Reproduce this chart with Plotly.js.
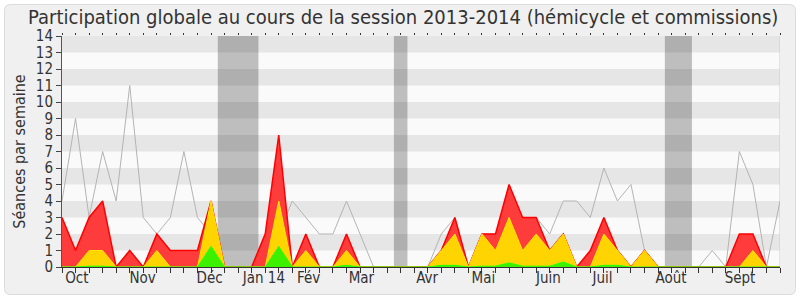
<!DOCTYPE html>
<html><head><meta charset="utf-8">
<script src="https://cdn.plot.ly/plotly-3.0.1.min.js"></script>
<style>body{margin:0;background:#fff}#chart{width:800px;height:300px}</style>
</head><body><div id="chart"></div>
<script>
// Semaines de la session (index de semaine)
const weeks = [0,1,2,3,4,5,6,7,8,9,10,11,12,13,14,15,16,17,18,19,20,21,22,23,24,25,26,
  27,28,29,30,31,32,33,34,35,36,37,38,39,40,41,42,43,44,45,46,47,48,49,50,51,52,53];
// Présences (rouge)
const presences = [3,1,3,4,0,1,0,2,1,1,1,4,0,0,0,2,8,0,2,0,0,2,0,0,0,0,0,
  0,1,3,0,2,2,5,3,3,1,2,0,1,3,1,0,1,0,0,0,0,0,0,2,2,0,0];
// Participations (jaune)
const participations = [0,0,1,1,0,0,0,1,0,0,0,4,0,0,0,0,4,0,1,0,0,1,0,0,0,0,0,
  0,1,2,0,2,1,3,1,2,1,2,0,0,2,1,0,1,0,0,0,0,0,0,0,1,0,0];
// Questions (vert)
const questions = [0,0,0.05,0.05,0,0,0,0,0,0,0,1.25,0,0,0,0,1.25,0,0,0,0,0.1,0,0,0,0,0,
  0,0.1,0.1,0,0.05,0.05,0.25,0.05,0.05,0.05,0.3,0,0,0.1,0.1,0,0,0,0,0,0,0,0,0,0,0,0];
// Médiane des députés (gris)
const mediane = [4,9,3,7,4,11,3,2,3,7,3,2,0,0,0,2,2,4,3,2,2,4,2,0,0,0,0,
  0,2,3,0,2,2,3,3,3,2,4,4,3,6,4,5,1,0,0,0,0,1,0,7,5,0,4];
// Vacances parlementaires (semaines)
const vacancesDebut = [12, 25, 45];
const vacancesFin = [14, 25, 46];
// Mois
const moisLabels = ['Oct','Nov','Déc','Jan 14','Fév','Mar','Avr','Mai','Juin','Juil','Août','Sept'];
const moisPos = [1.1, 5.95, 10.9, 14.9, 18.2, 22.1, 26.95, 31.1, 35.9, 39.9, 44.95, 50.05];
const yMax = 14;

const FONT = 'DejaVu Sans Condensed, DejaVu Sans, sans-serif';
const last = weeks[weeks.length - 1];

const traces = [
  {x: weeks, y: mediane, type: 'scatter', mode: 'lines', line: {color: '#b4b4b4', width: 1}, hoverinfo: 'skip'},
  {x: weeks, y: presences, type: 'scatter', mode: 'lines', fill: 'tozeroy',
   fillcolor: 'rgb(255,60,60)', line: {color: '#ff0000', width: 1.5}, hoverinfo: 'skip'},
  {x: weeks, y: participations, type: 'scatter', mode: 'lines', fill: 'tozeroy',
   fillcolor: 'rgb(255,212,0)', line: {color: '#ffe600', width: 1}, hoverinfo: 'skip'},
  {x: weeks, y: questions, type: 'scatter', mode: 'lines', fill: 'tozeroy',
   fillcolor: 'rgb(60,240,0)', line: {color: '#22ff00', width: 1}, hoverinfo: 'skip'},
  {x: [weeks[0], last], y: [0, 0], xaxis: 'x2', type: 'scatter', mode: 'lines', line: {width: 0}, opacity: 0, hoverinfo: 'skip'},
  {x: [weeks[0], last], y: [0, 0], xaxis: 'x3', type: 'scatter', mode: 'lines', line: {width: 0}, opacity: 0, hoverinfo: 'skip'}
];

const L = 62, R = 780, T = 36, B = 267;
const pw = R - L, ph = B - T;
const px = v => (v - L) / pw;
const py = v => (B - v) / ph;
const rx = 6 / pw, ry = 6 / ph;
const bx0 = px(4.5), bx1 = px(795.5), by0 = py(294.5), by1 = py(4.5);
const boxPath = `M ${bx0 + rx} ${by1} L ${bx1 - rx} ${by1} Q ${bx1} ${by1} ${bx1} ${by1 - ry} L ${bx1} ${by0 + ry} Q ${bx1} ${by0} ${bx1 - rx} ${by0} L ${bx0 + rx} ${by0} Q ${bx0} ${by0} ${bx0} ${by0 + ry} L ${bx0} ${by1 - ry} Q ${bx0} ${by1} ${bx0 + rx} ${by1} Z`;

const shapes = [
  {type: 'path', xref: 'paper', yref: 'paper', path: boxPath, fillcolor: '#f0f0f0', line: {color: '#dcdcdc', width: 1}, layer: 'below'},
  {type: 'rect', xref: 'x', yref: 'y', x0: weeks[0], x1: last, y0: 0, y1: yMax, fillcolor: '#fafafa', line: {width: 0}, layer: 'below'}
];
vacancesDebut.forEach((d, i) => {
  shapes.push({type: 'rect', xref: 'x', yref: 'y', x0: d - 0.5, x1: vacancesFin[i] + 0.5, y0: 0, y1: yMax,
    fillcolor: 'rgba(0,0,0,0.24)', line: {width: 0}, layer: 'below'});
});
for (let k = 1; k < yMax; k += 2) {
  shapes.push({type: 'rect', xref: 'x', yref: 'y', x0: weeks[0], x1: last, y0: k, y1: k + 1,
    fillcolor: 'rgba(0,0,0,0.08)', line: {width: 0}, layer: 'below'});
}
shapes.push({type: 'line', xref: 'x', yref: 'y', x0: last, x1: last, y0: 0, y1: yMax, line: {color: '#cccccc', width: 1}, layer: 'below'});

const layout = {
  width: 800, height: 300,
  margin: {l: L, r: 800 - R, t: T, b: 300 - B, pad: 0},
  paper_bgcolor: '#ffffff', plot_bgcolor: 'rgba(0,0,0,0)',
  showlegend: false,
  font: {family: FONT, color: '#333', size: 15},
  title: {text: 'Participation globale au cours de la session 2013-2014 (hémicycle et commissions)',
    font: {family: FONT, size: 20, color: '#333'}, xref: 'container', x: 0.504, xanchor: 'center',
    yref: 'container', y: 0.945, yanchor: 'middle'},
  xaxis: {range: [weeks[0], last], tickmode: 'linear', tick0: 0, dtick: 1, ticks: 'outside', ticklen: 5,
    tickcolor: '#333', tickwidth: 1, showticklabels: false, showline: true, linecolor: '#333', linewidth: 1,
    showgrid: false, zeroline: false, fixedrange: true},
  xaxis2: {overlaying: 'x', anchor: 'y', side: 'bottom', range: [weeks[0], last], tickmode: 'array',
    tickvals: moisPos, ticktext: moisLabels, ticks: '', showline: false, showgrid: false, zeroline: false,
    tickfont: {family: FONT, size: 15, color: '#333'}, fixedrange: true},
  xaxis3: {overlaying: 'x', anchor: 'y', side: 'top', range: [weeks[0], last], tickmode: 'linear', tick0: 0, dtick: 1,
    ticks: 'outside', ticklen: 2, tickcolor: '#333', showticklabels: false, showline: false, showgrid: false,
    zeroline: false, fixedrange: true},
  yaxis: {range: [0, yMax], tickmode: 'linear', tick0: 0, dtick: 1, ticks: 'outside', ticklen: 5,
    tickcolor: '#444', showline: true, linecolor: '#555', linewidth: 1, showgrid: false, zeroline: false,
    tickfont: {family: FONT, size: 15, color: '#333'},
    title: {text: 'Séances par semaine', font: {family: FONT, size: 16, color: '#333'}, standoff: 6},
    fixedrange: true},
  shapes: shapes
};

Plotly.newPlot('chart', traces, layout, {staticPlot: true, displayModeBar: false});
</script>
</body></html>
